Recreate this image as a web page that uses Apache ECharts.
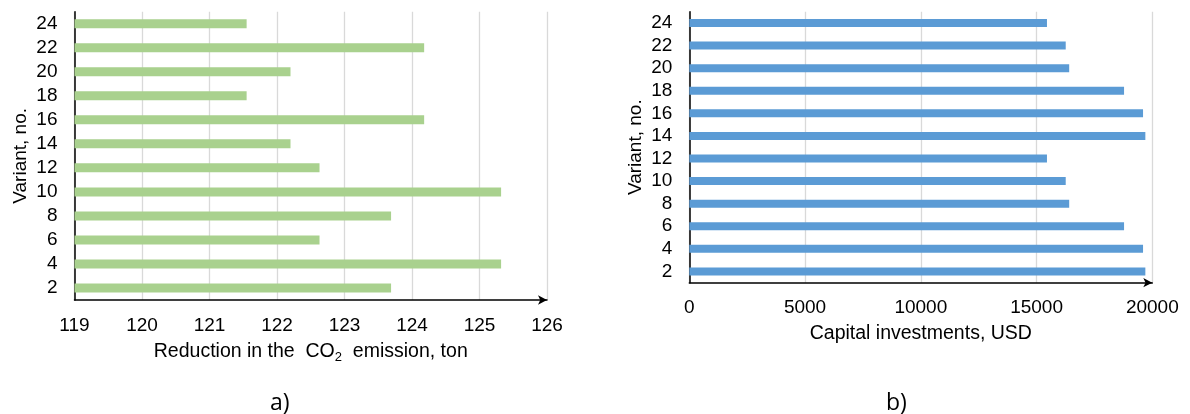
<!DOCTYPE html>
<html>
<head>
<meta charset="utf-8">
<script src="https://cdn.jsdelivr.net/npm/echarts@6/dist/echarts.min.js"></script>
<style>
html,body{margin:0;padding:0;background:#fff;}
#c{width:1190px;height:414px;}
</style>
</head>
<body>
<div id="c"></div>
<script>
const categories = ['2','4','6','8','10','12','14','16','18','20','22','24'];
const co2Reduction = [123.69,125.32,122.63,123.69,125.32,122.63,122.2,124.18,121.55,122.2,124.18,121.55];
const capitalInvestments = [19700,19600,18780,16410,16260,15450,19700,19600,18780,16410,16260,15450];
const co2Ticks = {min:119, max:126, interval:1};
const capTicks = {min:0, max:20000, interval:5000};

const FONT = '"Liberation Sans", Arial, sans-serif';
const chart = echarts.init(document.getElementById('c'), null, {renderer:'canvas'});

function xAx(idx, t, name, nameSize, gap) {
  return {
    type:'value', gridIndex:idx, min:t.min, max:t.max, interval:t.interval,
    axisLine:{show:true, onZero:false, lineStyle:{color:'#000', width:1.5}, symbol:['none','arrow'], symbolSize:[7,9]},
    axisTick:{show:false},
    axisLabel:{color:'#000', fontSize:19, fontFamily:FONT, margin:16, formatter:function(v){return String(v);}},
    splitLine:{show:true, lineStyle:{color:'#d9d9d9', width:1.3}},
    name:name, nameLocation:'middle', nameGap:gap,
    nameTextStyle:{color:'#000', fontSize:nameSize, fontFamily:FONT,
      rich:{
        m:{fontSize:nameSize, fontFamily:FONT, color:'#000', lineHeight:24},
        sub:{fontSize:13, fontFamily:FONT, color:'#000', verticalAlign:'bottom', lineHeight:24, padding:[6,0,0,0]}
      }}
  };
}
function yAx(idx) {
  return {
    type:'category', gridIndex:idx, data:categories,
    axisLine:{show:true, lineStyle:{color:'#000', width:1.5}},
    axisTick:{show:false},
    axisLabel:{color:'#000', fontSize:19, fontFamily:FONT, margin:17, interval:0},
    splitLine:{show:false},
    name:'Variant, no.', nameLocation:'middle', nameGap:44,
    nameTextStyle:{color:'#000', fontSize:19, fontFamily:FONT}
  };
}

chart.setOption({
  animation:false,
  backgroundColor:'#fff',
  grid:[
    {left:74.5, top:11.7, width:472.5, height:288.3},
    {left:689.3, top:11.7, width:463, height:271}
  ],
  xAxis:[
    xAx(0, co2Ticks, '{m|Reduction in the  CO}{sub|2}{m|  emission, ton}', 19.5, 40),
    xAx(1, capTicks, 'Capital investments, USD', 19.5, 41)
  ],
  yAxis:[yAx(0), yAx(1)],
  series:[
    {type:'bar', xAxisIndex:0, yAxisIndex:0, data:co2Reduction, barWidth:9,
     itemStyle:{color:'#a9d18e'}},
    {type:'bar', xAxisIndex:1, yAxisIndex:1, data:capitalInvestments, barWidth:8,
     itemStyle:{color:'#5b9bd5'}}
  ],
  graphic:[
    {type:'text', left:270, top:392, style:{text:'a)', fontSize:23, fontFamily:'"Open Sans", sans-serif', fill:'#000'}},
    {type:'text', left:886, top:392, style:{text:'b)', fontSize:23, fontFamily:'"Open Sans", sans-serif', fill:'#000'}}
  ]
});
</script>
</body>
</html>
